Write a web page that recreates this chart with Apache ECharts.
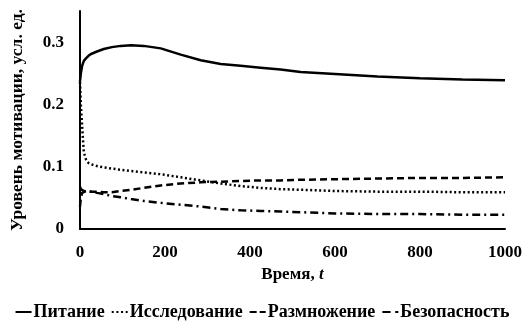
<!DOCTYPE html>
<html><head><meta charset="utf-8">
<script src="https://cdn.jsdelivr.net/npm/echarts@6/dist/echarts.min.js"></script>
<style>html,body{margin:0;padding:0;background:#fff}#c{width:525px;height:324px}</style>
</head><body><div id="c"></div>
<script>
var times = [0, 2, 5, 9, 14, 20, 26, 40, 56, 75, 96, 120, 150, 190, 237, 284, 331, 378, 425, 472, 519, 600, 700, 800, 900, 1000];
var pitanie = [0.237, 0.25, 0.262, 0.27, 0.274, 0.278, 0.281, 0.285, 0.289, 0.292, 0.294, 0.295, 0.294, 0.290, 0.280, 0.271, 0.265, 0.262, 0.259, 0.256, 0.252, 0.249, 0.245, 0.242, 0.240, 0.239];
var issledovanie = [0.236, 0.20, 0.165, 0.123, 0.112, 0.106, 0.104, 0.101, 0.099, 0.097, 0.095, 0.093, 0.091, 0.088, 0.083, 0.078, 0.073, 0.069, 0.066, 0.064, 0.063, 0.061, 0.060, 0.060, 0.059, 0.059];
var razmnozhenie = [0.036, 0.05, 0.058, 0.06, 0.061, 0.061, 0.06, 0.06, 0.059, 0.059, 0.061, 0.063, 0.066, 0.07, 0.073, 0.075, 0.076, 0.077, 0.078, 0.078, 0.079, 0.08, 0.081, 0.082, 0.082, 0.083];
var bezopasnost = [0.068, 0.064, 0.062, 0.061, 0.06, 0.06, 0.06, 0.058, 0.056, 0.053, 0.051, 0.048, 0.045, 0.042, 0.039, 0.036, 0.032, 0.030, 0.029, 0.028, 0.027, 0.025, 0.024, 0.024, 0.023, 0.023];
var seriesNames = ['Питание', 'Исследование', 'Размножение', 'Безопасность'];
var xTicks = [0, 200, 400, 600, 800, 1000];
var yTicks = [0, 0.1, 0.2, 0.3];

function pairs(vals){ return times.map(function(t,i){ return [t, vals[i]]; }); }
var font = 'Liberation Serif';
var dashes = ['solid', [2, 2.5], [7, 4], [8, 4, 2, 4]];
var icons = [
  'path://M0,0h16v2h-16z',
  'path://M0,0h2v2h-2z M4.6,0h2v2h-2z M9.2,0h2v2h-2z M13.8,0h2v2h-2z',
  'path://M0,0h7v2h-7z M10,0h6v2h-6z',
  'path://M0,0h8v2h-8z M12.5,0h3v2h-3z'
];
var datasets = [pitanie, issledovanie, razmnozhenie, bezopasnost];
var series = seriesNames.map(function(n, i){
  return {
    name: n, type: 'line', data: pairs(datasets[i]), showSymbol: false, symbol: 'none',
    lineStyle: { color: '#000', width: 2.5, type: dashes[i] },
    itemStyle: { color: '#000' }, animation: false
  };
});
var chart = echarts.init(document.getElementById('c'), null, {renderer: 'canvas'});
chart.setOption({
  backgroundColor: '#fff',
  animation: false,
  grid: { left: 79, right: 20, top: 11, bottom: 95, containLabel: false },
  xAxis: {
    type: 'value', min: 0, max: 1000, interval: 200,
    axisLine: { lineStyle: { color: '#000', width: 2 } },
    axisTick: { show: false }, splitLine: { show: false },
    axisLabel: { color: '#000', fontFamily: font, fontWeight: 'bold', fontSize: 17, margin: 15,
      formatter: function(v){ return xTicks.indexOf(v) >= 0 ? String(v) : ''; } },
    name: '{a|Время, }{b|t}', nameLocation: 'middle', nameGap: 36,
    nameTextStyle: { rich: {
      a: { color: '#000', fontFamily: font, fontWeight: 'bold', fontSize: 17 },
      b: { color: '#000', fontFamily: font, fontWeight: 'bold', fontStyle: 'italic', fontSize: 17 } } }
  },
  yAxis: {
    type: 'value', min: 0, max: 0.35, interval: 0.1,
    axisLine: { show: true, lineStyle: { color: '#000', width: 2 } },
    axisTick: { show: false }, splitLine: { show: false },
    axisLabel: { color: '#000', fontFamily: font, fontWeight: 'bold', fontSize: 17, margin: 16, showMaxLabel: false,
      formatter: function(v){ var r = Math.round(v*10)/10; return yTicks.indexOf(r) >= 0 ? String(r) : ''; } },
    name: 'Уровень мотивации, усл. ед.', nameLocation: 'middle', nameGap: 54,
    nameTextStyle: { color: '#000', fontFamily: font, fontWeight: 'bold', fontSize: 17.5 }
  },
  legend: {
    top: 298, left: 'center', itemWidth: 16, itemHeight: 2.5, itemGap: 7,
    data: seriesNames.map(function(n, i){ return { name: n, icon: icons[i] }; }),
    itemStyle: { color: '#000', borderWidth: 0 },
    textStyle: { color: '#000', fontFamily: font, fontWeight: 'bold', fontSize: 18, padding: [0,0,0,-3] }
  },
  series: series
});
</script></body></html>
